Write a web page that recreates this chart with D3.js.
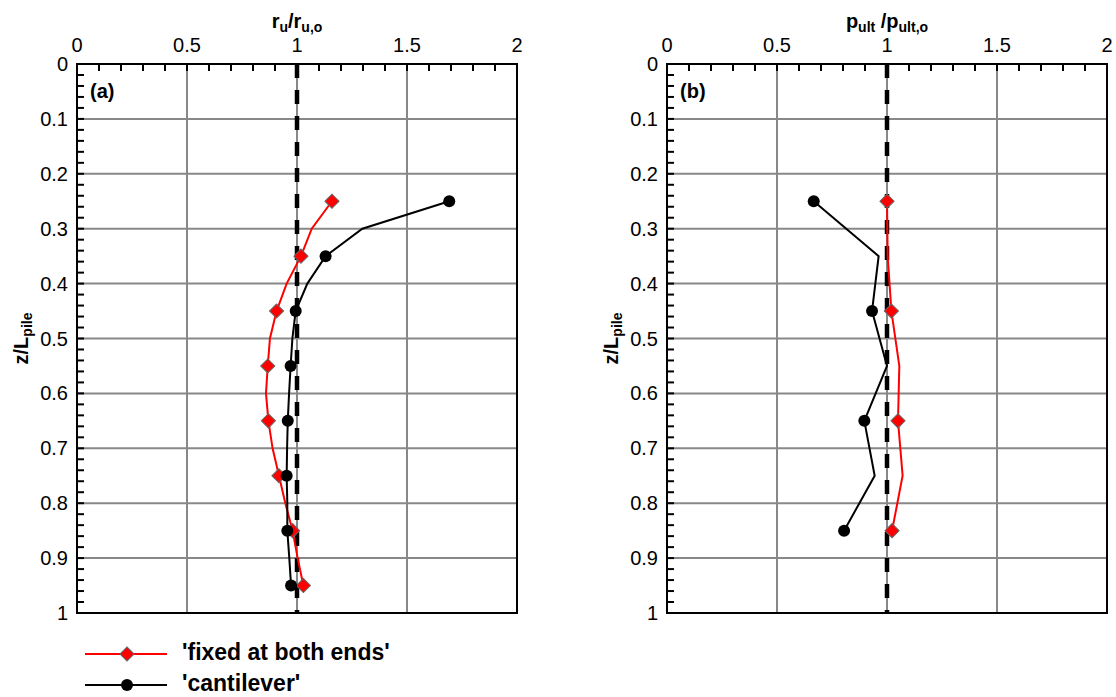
<!DOCTYPE html>
<html>
<head>
<meta charset="utf-8">
<script src="https://cdn.jsdelivr.net/npm/d3@7/dist/d3.min.js"></script>
<style>
  html, body { margin: 0; padding: 0; background: #fff; }
  svg { display: block; font-family: "Liberation Sans", Arial, sans-serif; }
</style>
</head>
<body>
<svg id="chart" width="1116" height="697"></svg>
<script>
// Normalised depth and ratio values for the two pile-head conditions
const xTicks = [0, 0.5, 1, 1.5, 2];
const yTicks = [0, 0.1, 0.2, 0.3, 0.4, 0.5, 0.6, 0.7, 0.8, 0.9, 1];

// Panel (a): r_u / r_u,o
const depthA = [0.25, 0.30, 0.35, 0.40, 0.45, 0.50, 0.55, 0.60, 0.65, 0.70, 0.75, 0.80, 0.85, 0.90, 0.95];
const fixedA = [1.159, 1.067, 1.018, 0.953, 0.907, 0.877, 0.867, 0.859, 0.870, 0.889, 0.918, 0.947, 0.980, 1.003, 1.029];
const cantA  = [1.692, 1.297, 1.130, 1.047, 0.994, 0.979, 0.971, 0.964, 0.958, 0.955, 0.953, 0.956, 0.956, 0.965, 0.973];
const markA  = [0.25, 0.35, 0.45, 0.55, 0.65, 0.75, 0.85, 0.95];

// Panel (b): p_ult / p_ult,o
const depthB = [0.25, 0.35, 0.45, 0.55, 0.65, 0.75, 0.85];
const fixedB = [1.000, 1.003, 1.020, 1.056, 1.050, 1.071, 1.023];
const cantB  = [0.667, 0.962, 0.932, 1.000, 0.897, 0.944, 0.805];
const markB  = [0.25, 0.45, 0.65, 0.85];

const seriesNames = ["'fixed at both ends'", "'cantilever'"];

const svg = d3.select("#chart");
const RED = "#ff0000";

// square rotated by 45 degrees gives the diamond marker
const diamond = d3.symbol().type(d3.symbolSquare).size(100);

function panel(cfg) {
  const x = d3.scaleLinear().domain([0, 2]).range([cfg.left, cfg.left + 440]);
  const y = d3.scaleLinear().domain([0, 1]).range([64, 613]);
  const g = svg.append("g");

  // grid lines
  g.append("g").selectAll("line").data(xTicks.slice(1, -1)).join("line")
    .attr("x1", d => x(d)).attr("x2", d => x(d)).attr("y1", y(0)).attr("y2", y(1))
    .attr("stroke", "#888").attr("stroke-width", 2);
  g.append("g").selectAll("line").data(yTicks.slice(1, -1)).join("line")
    .attr("x1", x(0)).attr("x2", x(2)).attr("y1", d => y(d)).attr("y2", d => y(d))
    .attr("stroke", "#888").attr("stroke-width", 2);

  // minor ticks (inward)
  const xMinor = d3.range(1, 20).map(i => i / 10);
  g.append("g").selectAll("line").data(xMinor).join("line")
    .attr("x1", d => x(d)).attr("x2", d => x(d)).attr("y1", y(0)).attr("y2", y(0) + 7)
    .attr("stroke", "#000").attr("stroke-width", 2);
  const yMinor = d3.range(1, 50).map(i => i / 50);
  g.append("g").selectAll("line").data(yMinor).join("line")
    .attr("x1", x(0)).attr("x2", x(0) + 7).attr("y1", d => y(d)).attr("y2", d => y(d))
    .attr("stroke", "#000").attr("stroke-width", 2);

  // reference line at ratio = 1
  g.append("line")
    .attr("x1", x(1)).attr("x2", x(1)).attr("y1", y(0)).attr("y2", y(1))
    .attr("stroke", "#000").attr("stroke-width", 4.5)
    .attr("stroke-dasharray", "14,12");

  // frame
  g.append("rect").attr("x", x(0)).attr("y", y(0))
    .attr("width", x(2) - x(0)).attr("height", y(1) - y(0))
    .attr("fill", "none").attr("stroke", "#000").attr("stroke-width", 2);

  // tick labels
  g.append("g").selectAll("text").data(xTicks).join("text")
    .attr("x", d => x(d)).attr("y", 52)
    .attr("text-anchor", "middle").attr("font-size", 20).text(d => d3.format("")(d));
  g.append("g").selectAll("text").data(yTicks).join("text")
    .attr("x", x(0) - 9).attr("y", d => y(d) + 7)
    .attr("text-anchor", "end").attr("font-size", 20).text(d => d3.format("")(d));

  // axis titles
  const t = g.append("text").attr("x", x(1)).attr("y", 28)
    .attr("text-anchor", "middle").attr("font-size", 20).attr("font-weight", "bold");
  t.append("tspan").text(cfg.num);
  t.append("tspan").attr("dy", 4).attr("font-size", 14).text(cfg.numSub);
  t.append("tspan").attr("dy", -4).text(cfg.sep);
  t.append("tspan").attr("dy", 4).attr("font-size", 14).text(cfg.denSub);

  const yl = g.append("text")
    .attr("transform", `translate(${x(0) - 49},${y(0.5)}) rotate(-90)`)
    .attr("text-anchor", "middle").attr("font-size", 20).attr("font-weight", "bold");
  yl.append("tspan").text("z/L");
  yl.append("tspan").attr("dy", 4).attr("font-size", 14).text("pile");

  g.append("text").attr("x", x(0) + 13).attr("y", 98)
    .attr("font-size", 20).attr("font-weight", "bold").text(cfg.tag);

  // series
  const line = d3.line().x(d => x(d[0])).y(d => y(d[1]));
  const fixedPts = cfg.depth.map((z, i) => [cfg.fixed[i], z]);
  const cantPts = cfg.depth.map((z, i) => [cfg.cant[i], z]);

  g.append("path").datum(fixedPts).attr("d", line)
    .attr("fill", "none").attr("stroke", RED).attr("stroke-width", 2);
  g.append("path").datum(cantPts).attr("d", line)
    .attr("fill", "none").attr("stroke", "#000").attr("stroke-width", 2);

  const isMark = p => cfg.marks.some(m => Math.abs(m - p[1]) < 1e-6);
  g.append("g").selectAll("path").data(fixedPts.filter(isMark)).join("path")
    .attr("d", diamond)
    .attr("transform", d => `translate(${x(d[0])},${y(d[1])}) rotate(45)`)
    .attr("fill", RED).attr("stroke", "#666").attr("stroke-width", 1);
  g.append("g").selectAll("circle").data(cantPts.filter(isMark)).join("circle")
    .attr("cx", d => x(d[0])).attr("cy", d => y(d[1])).attr("r", 6)
    .attr("fill", "#000");
}

panel({ left: 77, tag: "(a)", num: "r", numSub: "u", sep: "/r", denSub: "u,o",
        depth: depthA, fixed: fixedA, cant: cantA, marks: markA });
panel({ left: 667, tag: "(b)", num: "p", numSub: "ult", sep: " /p", denSub: "ult,o",
        depth: depthB, fixed: fixedB, cant: cantB, marks: markB });

// legend
const legend = svg.append("g");
const legendRows = [
  { name: seriesNames[0], color: RED, y: 654, shape: "diamond" },
  { name: seriesNames[1], color: "#000", y: 685, shape: "circle" }
];
legendRows.forEach(r => {
  legend.append("line").attr("x1", 85).attr("x2", 167).attr("y1", r.y).attr("y2", r.y)
    .attr("stroke", r.color).attr("stroke-width", 2);
  if (r.shape === "diamond") {
    legend.append("path").attr("d", diamond)
      .attr("transform", `translate(127,${r.y}) rotate(45)`)
      .attr("fill", RED).attr("stroke", "#666").attr("stroke-width", 1);
  } else {
    legend.append("circle").attr("cx", 127).attr("cy", r.y).attr("r", 6).attr("fill", "#000");
  }
  legend.append("text").attr("x", 182).attr("y", r.y + 6)
    .attr("font-size", 23).attr("font-weight", "bold").text(r.name);
});
</script>
</body>
</html>
